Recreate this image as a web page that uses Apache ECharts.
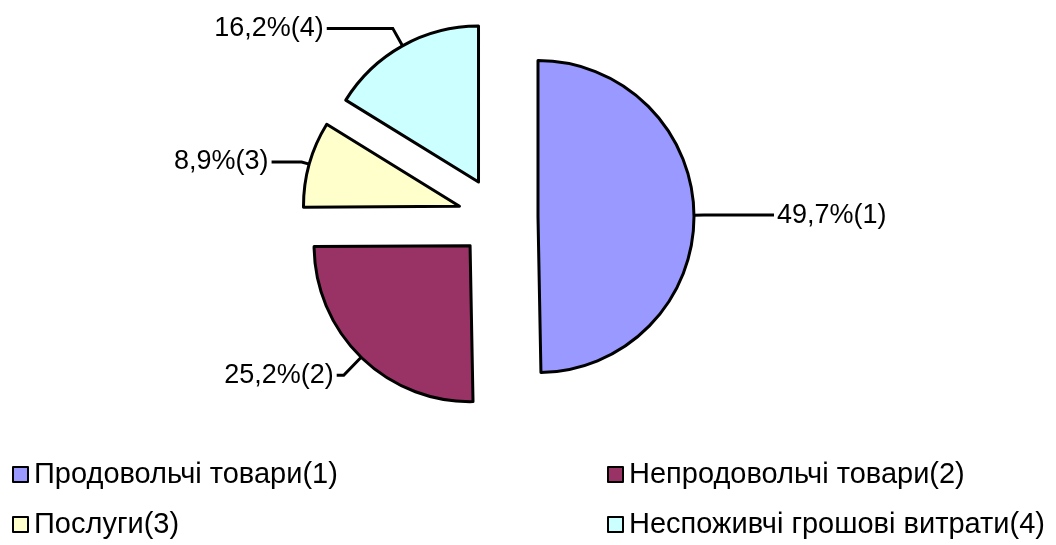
<!DOCTYPE html>
<html>
<head>
<meta charset="utf-8">
<script src="https://cdn.jsdelivr.net/npm/echarts@6/dist/echarts.min.js"></script>
<style>
html,body{margin:0;padding:0;background:#fff;}
#chart{width:1056px;height:545px;}
</style>
</head>
<body>
<div id="chart"></div>
<script>
const categories = ['Продовольчі товари(1)', 'Непродовольчі товари(2)', 'Послуги(3)', 'Неспоживчі грошові витрати(4)'];
const values = [49.7, 25.2, 8.9, 16.2];
const labelTexts = ['49,7%(1)', '25,2%(2)', '8,9%(3)', '16,2%(4)'];
const colors = ['#9999FF', '#993366', '#FFFFCC', '#CCFFFF'];
const lineLengths = [[10, 70], [25, 7], [8, 30], [20, 66]];

const FONT = 'Liberation Sans, Arial, sans-serif';
const chart = echarts.init(document.getElementById('chart'), null, {renderer: 'canvas'});

const data = categories.map((c, i) => ({
  name: c,
  value: values[i],
  selected: true,
  itemStyle: {color: colors[i]},
  label: {formatter: labelTexts[i]},
  labelLine: {length: lineLengths[i][0], length2: lineLengths[i][1]}
}));

function legendAt(idx, left, top) {
  return {
    data: [categories[idx]],
    left: left, top: top,
    padding: 0,
    icon: 'rect',
    itemWidth: 15, itemHeight: 15,
    itemStyle: {borderColor: '#000', borderWidth: 2},
    selectedMode: false,
    textStyle: {fontFamily: FONT, fontSize: 29, color: '#000', padding: [0, 0, 0, 1]}
  };
}

chart.setOption({
  animation: false,
  color: colors,
  legend: [
    legendAt(0, 12, 460),
    legendAt(1, 607, 460),
    legendAt(2, 12, 510),
    legendAt(3, 607, 510)
  ],
  series: [{
    type: 'pie',
    center: [498, 217],
    radius: 156,
    startAngle: 90,
    clockwise: true,
    selectedMode: 'multiple',
    selectedOffset: 40,
    avoidLabelOverlap: false,
    itemStyle: {borderColor: '#000', borderWidth: 3},
    emphasis: {disabled: true},
    label: {
      show: true,
      position: 'outside',
      color: '#000',
      fontFamily: FONT,
      fontSize: 27,
      distanceToLabelLine: 3
    },
    labelLine: {show: true, lineStyle: {color: '#000', width: 3}},
    data: data
  }]
});
</script>
</body>
</html>
